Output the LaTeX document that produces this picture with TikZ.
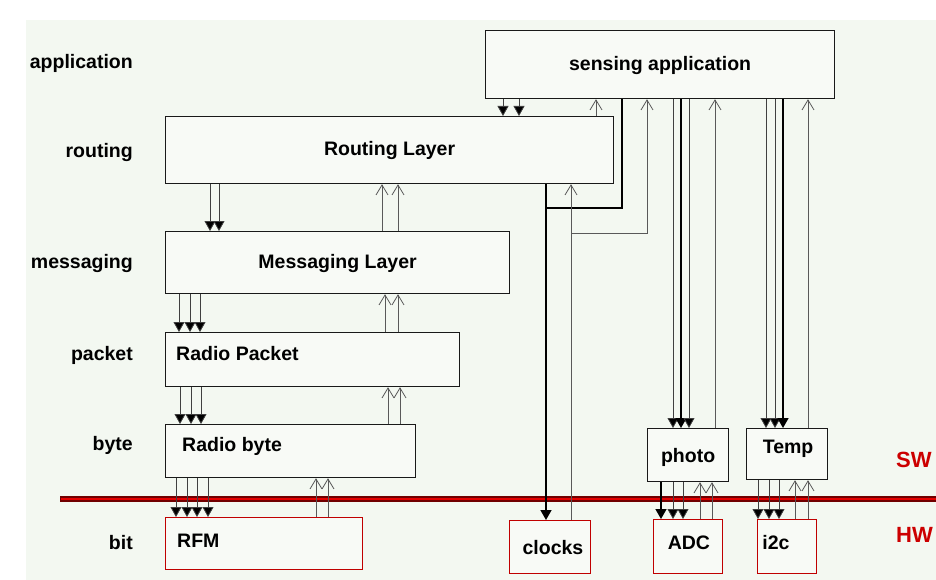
\documentclass[tikz,border=0pt]{standalone}
\usepackage{fontspec}
\setmainfont{Liberation Sans}
\usetikzlibrary{arrows.meta}
\definecolor{bgtint}{HTML}{F3F8F1}
\definecolor{boxfill}{HTML}{F8FAF6}
\definecolor{hwred}{HTML}{C00000}
\definecolor{lblred}{HTML}{CC0000}
\definecolor{darkred}{HTML}{700000}
\newcommand\dcon[4]{\draw[#1] (#3.south -| #2,0) -- (#4.north -| #2,0);}
\newcommand\ucon[4]{\draw[#1] (#3.north -| #2,0) -- (#4.south -| #2,0);}
\begin{document}
\begin{tikzpicture}[x=1pt,y=-1pt,
  box/.style={draw=black!90, line width=1.2pt, fill=boxfill, inner sep=0pt, anchor=north west},
  hwbox/.style={box, draw=hwred, line width=0.9pt},
  lbl/.style={font=\bfseries\fontsize{19.5}{22}\selectfont, inner sep=0pt, text=black},
  side/.style={font=\bfseries\fontsize{19.5}{22}\selectfont, inner sep=0pt, anchor=east},
  swhw/.style={font=\bfseries\fontsize{22}{26}\selectfont, inner sep=0pt, text=lblred, anchor=west},
  dn/.style={draw=black!75, line width=0.8pt, -{Triangle[width=11pt,length=10pt,fill=black]}},
  dnk/.style={dn, draw=black, line width=1.5pt, -{Triangle[width=11pt,length=10pt,fill=black]}},
  lk/.style={draw=black, line width=1.5pt},
  up/.style={draw=black!65, line width=0.7pt, -{Straight Barb[width=12pt,length=10pt,line width=0.8pt]}}
]
\useasboundingbox (0,0) rectangle (936,580);
\fill[white] (0,0) rectangle (936,580);
\fill[bgtint] (26,20) rectangle (936,580);

% layer labels
\node[side] (lapp) at (133,63) {application};
\node[side] (lrout) at (133,153) {routing};
\node[side] (lmsg) at (133,263) {messaging};
\node[side] (lpkt) at (133,355) {packet};
\node[side] (lbyte) at (133,445) {byte};
\node[side] (lbit) at (133,543) {bit};

% SW/HW divider
\draw[darkred, line width=5.5pt] (60,499) -- (936,499);
\draw[red!90!black, line width=2.5pt] (61,499) -- (936,499);
\node[swhw] (sw) at (896,460) {SW};
\node[swhw] (hw) at (896,535) {HW};

% software boxes
\node[box, minimum width=349pt, minimum height=68pt,
  label={[lbl, yshift=-1pt]center:sensing application}] (sens) at (485,30) {};
\node[box, minimum width=448pt, minimum height=67pt,
  label={[lbl]center:Routing Layer}] (route) at (165,116) {};
\node[box, minimum width=344pt, minimum height=62pt,
  label={[lbl, yshift=-1pt]center:Messaging Layer}] (msg) at (165,231) {};
\node[box, minimum width=294pt, minimum height=54pt,
  label={[lbl, anchor=west, xshift=11pt, yshift=6pt]west:Radio Packet}] (pkt) at (165,332) {};
\node[box, minimum width=250pt, minimum height=53pt,
  label={[lbl, anchor=west, xshift=17pt, yshift=5pt]west:Radio byte}] (byte) at (165,424) {};
\node[box, minimum width=81pt, minimum height=53pt,
  label={[lbl, yshift=-2pt]center:photo}] (photo) at (647,428) {};
\node[box, minimum width=81pt, minimum height=51pt,
  label={[lbl, xshift=1pt, yshift=5pt]center:Temp}] (temp) at (746,428) {};

% hardware boxes
\node[hwbox, minimum width=197pt, minimum height=52pt,
  label={[lbl, anchor=west, xshift=12pt, yshift=3pt]west:RFM}] (rfm) at (165,517) {};
\node[hwbox, minimum width=81pt, minimum height=53pt,
  label={[lbl, xshift=3pt, yshift=-1pt]center:clocks}] (clocks) at (509,520) {};
\node[hwbox, minimum width=69pt, minimum height=54pt,
  label={[lbl, xshift=1pt, yshift=4pt]center:ADC}] (adc) at (653,519) {};
\node[hwbox, minimum width=59pt, minimum height=54pt,
  label={[lbl, xshift=-11pt, yshift=4pt]center:i2c}] (i2c) at (757,519) {};

% sensing application <-> routing
\dcon{dn}{503}{sens}{route}
\dcon{dn}{519}{sens}{route}
\ucon{up}{596}{route}{sens}

% routing <-> messaging
\dcon{dn}{210}{route}{msg}
\dcon{dn}{219}{route}{msg}
\ucon{up}{382}{msg}{route}
\ucon{up}{398}{msg}{route}

% messaging <-> packet
\dcon{dn}{179}{msg}{pkt}
\dcon{dn}{190}{msg}{pkt}
\dcon{dn}{200}{msg}{pkt}
\ucon{up}{385}{pkt}{msg}
\ucon{up}{398}{pkt}{msg}

% packet <-> byte
\dcon{dn}{180}{pkt}{byte}
\dcon{dn}{191}{pkt}{byte}
\dcon{dn}{201}{pkt}{byte}
\ucon{up}{388}{byte}{pkt}
\ucon{up}{400}{byte}{pkt}

% byte <-> RFM
\dcon{dn}{176}{byte}{rfm}
\dcon{dn}{187}{byte}{rfm}
\dcon{dn}{197}{byte}{rfm}
\dcon{dn}{208}{byte}{rfm}
\ucon{up}{316}{rfm}{byte}
\ucon{up}{328}{rfm}{byte}

% clocks
\coordinate (j1) at (546,208);
\coordinate (j2) at (571,233);
\dcon{dnk}{546}{route}{clocks}
\draw[lk] (sens.south -| 622,0) |- (j1);
\ucon{up}{571}{clocks}{route}
\draw[up] (j2) -| (sens.south -| 647,0);

% sensing <-> photo
\dcon{dn}{673}{sens}{photo}
\dcon{dnk}{681}{sens}{photo}
\dcon{dn}{689}{sens}{photo}
\ucon{up}{715}{photo}{sens}

% sensing <-> Temp
\dcon{dn}{766}{sens}{temp}
\dcon{dn}{775}{sens}{temp}
\dcon{dnk}{783}{sens}{temp}
\ucon{up}{808}{temp}{sens}

% photo <-> ADC
\dcon{dnk}{661}{photo}{adc}
\dcon{dn}{673}{photo}{adc}
\dcon{dn}{683}{photo}{adc}
\ucon{up}{700}{adc}{photo}
\ucon{up}{712}{adc}{photo}

% Temp <-> i2c
\dcon{dn}{758}{temp}{i2c}
\dcon{dn}{769}{temp}{i2c}
\dcon{dn}{779}{temp}{i2c}
\ucon{up}{795}{i2c}{temp}
\ucon{up}{808}{i2c}{temp}
\end{tikzpicture}
\end{document}
